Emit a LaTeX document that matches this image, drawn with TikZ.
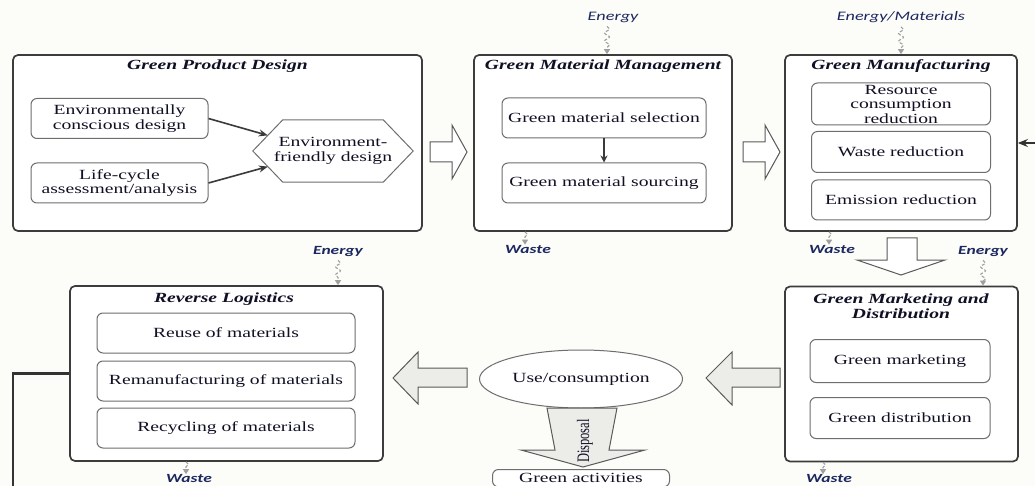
\documentclass[tikz,border=0pt]{standalone}
\usepackage{fontspec}
\usepackage{graphicx}
\setmainfont{Liberation Serif}[FakeStretch=1.4]
\newfontfamily\lblfont{Carlito}[FakeStretch=1.4]
\newfontfamily\plainserif{Liberation Serif}
\usetikzlibrary{calc,arrows.meta,decorations.pathmorphing,shapes.geometric}
\definecolor{bgc}{HTML}{FCFCF8}
\definecolor{outc}{HTML}{3C3C3C}
\definecolor{innc}{HTML}{6E6E6E}
\definecolor{txtc}{HTML}{101025}
\definecolor{lblc}{HTML}{1C2860}
\definecolor{sqc}{HTML}{A0A0A0}
\definecolor{lnc}{HTML}{3A3A3A}
\definecolor{bac}{HTML}{5A5A5A}
\definecolor{bag}{HTML}{ECECE8}
\definecolor{loopc}{HTML}{333333}
\begin{document}
\begin{tikzpicture}[x=1pt,y=-1pt,
 every node/.style={inner sep=0pt,text=txtc},
 outerbox/.style={draw=outc,line width=1.7pt,rounded corners=5pt,fill=white},
 innerbox/.style={draw=innc,line width=1.0pt,rounded corners=6pt,fill=white,align=center,font=\fontsize{14}{14.5}\selectfont},
 plaintext/.style={align=center,font=\fontsize{14}{14.5}\selectfont},
 ttl/.style={font=\fontsize{14}{15}\selectfont\bfseries\itshape,align=center},
 lbl/.style={font=\lblfont\fontsize{12.5}{12.5}\selectfont\bfseries\itshape,text=lblc},
 toplbl/.style={font=\lblfont\fontsize{13}{13}\selectfont\itshape,text=lblc},
 squig/.style={draw=sqc,line width=1.1pt,densely dashed,decorate,decoration={snake,amplitude=2.5pt,segment length=8pt,post length=4pt},-{Triangle[length=5pt,width=6pt]}},
 link/.style={draw=lnc,line width=1.6pt,-{Stealth[length=9pt,width=7pt]}},
 blockW/.style={draw=bac,line width=1.0pt,fill=white},
 blockG/.style={draw=bac,line width=1.0pt,fill=bag},
 loopline/.style={draw=loopc,line width=2.4pt},
]
\useasboundingbox (0,0) rectangle (1035,486);
\clip (0,0) rectangle (1035,486);
\fill[bgc] (0,0) rectangle (1035,486);

% ---------- Green Product Design ----------
\node[outerbox,minimum width=409pt,minimum height=176pt] (gpd) at (217.5,143) {};
\node[ttl] (gpdT) at (217.5,66) {Green Product Design};
\node[innerbox,minimum width=177pt,minimum height=40pt] (b1) at (119.5,118.5) {Environmentally\\conscious design};
\node[innerbox,minimum width=177pt,minimum height=40pt] (b2) at (119.5,183) {Life-cycle\\assessment/analysis};
\node[plaintext,minimum width=160pt,minimum height=62pt] (hex) at (333,151) {Environment-\\friendly design};
\draw[draw=innc,line width=1.0pt] (hex.west) -- ([xshift=30pt]hex.north west) -- ([xshift=-30pt]hex.north east) -- (hex.east) -- ([xshift=-30pt]hex.south east) -- ([xshift=30pt]hex.south west) -- cycle;
\draw[link] (b1.east) -- ($(hex.west)!0.5!([xshift=30pt]hex.north west)$);
\draw[link] (b2.east) -- ($(hex.west)!0.5!([xshift=30pt]hex.south west)$);

% ---------- Green Material Management ----------
\node[outerbox,minimum width=258pt,minimum height=176pt] (gmm) at (603,143) {};
\node[ttl] (gmmT) at (603,66) {Green Material Management};
\node[innerbox,minimum width=204pt,minimum height=40pt] (s1) at (604,118) {Green material selection};
\node[innerbox,minimum width=204pt,minimum height=40pt] (s2) at (604,183) {Green material sourcing};
\draw[draw=lnc,line width=2pt,-{Stealth[length=7pt,width=7pt]}] (s1.south) -- (s2.north);

% ---------- Green Manufacturing ----------
\node[outerbox,minimum width=232pt,minimum height=176pt] (gm) at (901,143) {};
\node[ttl] (gmT) at (901,66) {Green Manufacturing};
\node[innerbox,minimum width=179pt,minimum height=42pt] (m1) at (901,104) {Resource\\consumption\\reduction};
\node[innerbox,minimum width=179pt,minimum height=41pt] (m2) at (901,152) {Waste reduction};
\node[innerbox,minimum width=179pt,minimum height=40pt] (m3) at (901,200) {Emission reduction};

% ---------- Green Marketing and Distribution ----------
\node[outerbox,minimum width=233pt,minimum height=175pt] (gmd) at (901.5,374) {};
\node[ttl] (gmdT) at (901,306) {Green Marketing and\\Distribution};
\node[innerbox,minimum width=180pt,minimum height=43pt] (d1) at (900,361) {Green marketing};
\node[innerbox,minimum width=180pt,minimum height=41pt] (d2) at (900,418) {Green distribution};

% ---------- Reverse Logistics ----------
\node[outerbox,minimum width=313pt,minimum height=175pt] (rl) at (226.5,373.5) {};
\node[ttl] (rlT) at (224,299) {Reverse Logistics};
\node[innerbox,minimum width=258pt,minimum height=40pt] (r1) at (226,333) {Reuse of materials};
\node[innerbox,minimum width=258pt,minimum height=40pt] (r2) at (226,381) {Remanufacturing of materials};
\node[innerbox,minimum width=258pt,minimum height=40pt] (r3) at (226,428) {Recycling of materials};

% ---------- Use / consumption ----------
\node[ellipse,draw=innc,line width=1.0pt,fill=white,minimum width=203pt,minimum height=58pt,font=\fontsize{14}{14.5}\selectfont] (use) at (581,379) {Use/consumption};
\node[innerbox,anchor=north,minimum width=177pt,inner ysep=4pt] (ga) at (581,469) {Green activities};

% ---------- block arrows ----------
\draw[blockW] (430,142) -- (452,142) -- (452,125) -- (467,152) -- (452,179) -- (452,162) -- (430,162) -- cycle;
\draw[blockW] (743,142) -- (765,142) -- (765,125) -- (780,152) -- (765,179) -- (765,162) -- (743,162) -- cycle;
\draw[blockW] (887,238) -- (917,238) -- (917,260) -- (945,260) -- (901,275) -- (857,260) -- (887,260) -- cycle;
\draw[blockG] (780,368) -- (732,368) -- (732,352) -- (706,378) -- (732,405) -- (732,387) -- (780,387) -- cycle;
\draw[blockG] (467,368) -- (418,368) -- (418,352) -- (393,378) -- (418,404) -- (418,387) -- (467,387) -- cycle;
\draw[blockG] (547,408) -- (617,408) -- (609,450) -- (645,450) -- (583,467) -- (521,450) -- (555,450) -- cycle;
\node[rotate=90,font=\plainserif\fontsize{12.5}{13}\selectfont] (disp) at (585,441) {\scalebox{1}[1.4]{Disposal}};

% ---------- energy / waste ----------
\node[toplbl] (enA) at (613,17) {Energy};
\draw[squig] (gmm.north |- enA.south) ++(4,4) -- ([xshift=4pt]gmm.north);
\node[toplbl] (enB) at (901,17) {Energy/Materials};
\draw[squig] ([yshift=-4pt]enB.south) -- (gm.north);
\node[lbl] (wA) at (528,249) {Waste};
\draw[squig] (gmm.south -| wA.north) ++(-3,0) -- ([xshift=-3pt]wA.north);
\node[lbl] (wB) at (832,249) {Waste};
\draw[squig] (gm.south -| wB.north) ++(-3,0) -- ([xshift=-3pt]wB.north);
\node[lbl] (enC) at (983,252) {Energy};
\draw[squig] ([yshift=-3pt]enC.south) -- (enC.south |- gmd.north);
\node[lbl] (enD) at (338,252) {Energy};
\draw[squig] ([yshift=-3pt]enD.south) -- (enD.south |- rl.north);
\node[lbl] (wC) at (189,478.5) {Waste};
\draw[squig] (rl.south -| wC.north) ++(-3,0) -- ([xshift=-3pt]wC.north);
\node[lbl] (wD) at (829,478.5) {Waste};
\draw[squig] (gmd.south -| wD.north) ++(-6,0) -- ([xshift=-6pt]wD.north);

% ---------- feedback loop ----------
\coordinate (loopL) at (13,486);
\coordinate (loopR) at (1035,143);
\draw[loopline] (rl.west) -| (loopL);
\draw[loopline,-{Stealth[length=10pt,width=8pt]}] (loopR) -- (gm.east);
\end{tikzpicture}
\end{document}
